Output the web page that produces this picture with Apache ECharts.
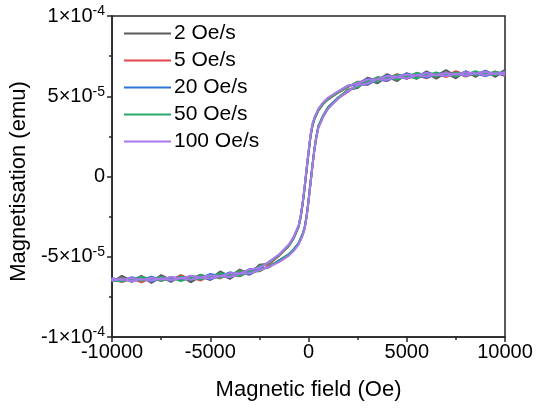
<!DOCTYPE html>
<html><head><meta charset="utf-8">
<script src="https://cdn.jsdelivr.net/npm/echarts@6/dist/echarts.min.js"></script>
<style>html,body{margin:0;padding:0;background:#fff}#c{width:536px;height:410px}</style>
</head><body><div id="c"></div>
<script>
// Magnetisation values are in units of 1e-5 emu
const seriesNames = ['2 Oe/s', '5 Oe/s', '20 Oe/s', '50 Oe/s', '100 Oe/s'];
const fieldDown = [10000,9500,9000,8500,8000,7500,7000,6500,6000,5500,5000,4500,4000,3500,3000,2500,2000,1500,1000,750,500,300,200,100,0,-100,-200,-300,-400,-500,-750,-1000,-1500,-2000,-2500,-3000,-3500,-4000,-4500,-5000,-5500,-6000,-6500,-7000,-7500,-8000,-8500,-9000,-9500,-10000];
const fieldUp = [-10000,-9500,-9000,-8500,-8000,-7500,-7000,-6500,-6000,-5500,-5000,-4500,-4000,-3500,-3000,-2500,-2000,-1500,-1000,-750,-500,-300,-200,-100,0,100,200,300,400,500,750,1000,1500,2000,2500,3000,3500,4000,4500,5000,5500,6000,6500,7000,7500,8000,8500,9000,9500,10000];

const m2Down = [6.65,6.27,6.60,6.22,6.55,6.26,6.63,6.27,6.55,6.14,6.44,6.10,6.38,5.98,6.15,5.75,5.66,5.28,4.82,4.58,4.12,3.63,3.17,2.53,1.47,0.43,-0.73,-1.67,-2.53,-3.07,-3.83,-4.27,-4.93,-5.43,-5.50,-6.05,-5.80,-6.22,-5.92,-6.37,-6.11,-6.47,-6.14,-6.46,-6.14,-6.58,-6.19,-6.50,-6.19,-6.56];
const m2Up = [-6.63,-6.25,-6.57,-6.22,-6.63,-6.27,-6.57,-6.19,-6.59,-6.22,-6.45,-6.07,-6.38,-5.96,-6.12,-5.75,-5.65,-5.22,-4.88,-4.52,-4.18,-3.57,-3.23,-2.47,-1.53,-0.37,0.67,1.73,2.47,3.13,3.77,4.33,4.87,5.41,5.51,6.05,5.80,6.23,5.94,6.41,6.08,6.45,6.10,6.46,6.12,6.56,6.21,6.60,6.21,6.60];

const m5Down = [6.33,6.55,6.30,6.52,6.33,6.56,6.28,6.45,6.22,6.44,6.18,6.37,6.08,6.18,5.90,5.91,5.56,5.21,4.81,4.51,4.11,3.56,3.16,2.46,1.46,0.36,-0.74,-1.74,-2.54,-3.14,-3.84,-4.34,-4.94,-5.45,-5.57,-6.00,-5.88,-6.19,-6.08,-6.33,-6.13,-6.35,-6.18,-6.47,-6.28,-6.48,-6.27,-6.52,-6.31,-6.50];
const m5Up = [-6.35,-6.57,-6.37,-6.59,-6.31,-6.52,-6.27,-6.47,-6.27,-6.48,-6.18,-6.35,-6.10,-6.22,-5.90,-5.91,-5.56,-5.29,-4.89,-4.59,-4.19,-3.64,-3.24,-2.54,-1.54,-0.44,0.66,1.66,2.46,3.06,3.76,4.26,4.86,5.27,5.75,5.71,6.08,5.95,6.28,6.09,6.31,6.12,6.40,6.20,6.46,6.22,6.43,6.26,6.49,6.26];

const m20Down = [6.53,6.35,6.57,6.38,6.53,6.30,6.47,6.29,6.49,6.26,6.40,6.19,6.30,6.00,6.08,5.80,5.63,5.27,4.87,4.57,4.17,3.62,3.22,2.52,1.52,0.42,-0.68,-1.68,-2.48,-3.08,-3.78,-4.28,-4.88,-5.30,-5.75,-5.77,-6.10,-5.97,-6.20,-6.07,-6.33,-6.19,-6.42,-6.26,-6.44,-6.24,-6.45,-6.28,-6.51,-6.32];
const m20Up = [-6.51,-6.33,-6.55,-6.36,-6.55,-6.32,-6.49,-6.27,-6.43,-6.24,-6.42,-6.17,-6.28,-6.04,-6.08,-5.80,-5.63,-5.23,-4.83,-4.53,-4.13,-3.58,-3.18,-2.48,-1.48,-0.38,0.72,1.72,2.52,3.12,3.82,4.32,4.92,5.30,5.75,5.73,6.04,5.97,6.26,6.11,6.33,6.15,6.38,6.26,6.46,6.26,6.45,6.26,6.45,6.30];

const m50Down = [6.39,6.53,6.35,6.56,6.35,6.48,6.29,6.49,6.31,6.46,6.22,6.35,6.12,6.18,5.90,5.89,5.58,5.24,4.84,4.54,4.14,3.59,3.19,2.49,1.49,0.39,-0.71,-1.71,-2.51,-3.11,-3.81,-4.31,-4.91,-5.39,-5.59,-5.95,-5.90,-6.13,-6.02,-6.27,-6.13,-6.39,-6.24,-6.42,-6.26,-6.42,-6.25,-6.48,-6.33,-6.48];
const m50Up = [-6.39,-6.55,-6.37,-6.50,-6.31,-6.50,-6.31,-6.51,-6.31,-6.42,-6.20,-6.31,-6.10,-6.20,-5.94,-5.89,-5.58,-5.25,-4.85,-4.55,-4.15,-3.60,-3.20,-2.50,-1.50,-0.40,0.70,1.70,2.50,3.10,3.80,4.30,4.90,5.39,5.57,5.95,5.92,6.19,6.04,6.25,6.11,6.35,6.24,6.42,6.22,6.44,6.31,6.48,6.31,6.52];

const m100Down = [6.49,6.39,6.53,6.40,6.49,6.34,6.45,6.33,6.45,6.29,6.36,6.21,6.26,6.04,6.04,5.82,5.64,5.31,4.92,4.63,4.23,3.68,3.30,2.60,1.60,0.50,-0.60,-1.60,-2.42,-3.02,-3.73,-4.24,-4.86,-5.32,-5.69,-5.79,-6.05,-6.02,-6.22,-6.15,-6.29,-6.20,-6.35,-6.26,-6.42,-6.32,-6.44,-6.33,-6.45,-6.36];
const m100Up = [-6.49,-6.39,-6.53,-6.39,-6.49,-6.34,-6.46,-6.33,-6.44,-6.30,-6.36,-6.20,-6.26,-6.06,-6.03,-5.83,-5.62,-5.33,-4.93,-4.63,-4.23,-3.68,-3.28,-2.58,-1.58,-0.48,0.62,1.62,2.42,3.02,3.72,4.22,4.84,5.32,5.70,5.79,6.05,6.03,6.20,6.11,6.31,6.23,6.36,6.25,6.40,6.29,6.43,6.31,6.44,6.35];

const xTicks = [-10000, -5000, 0, 5000, 10000];
const yTickLabels = {'10': ['1', '-4'], '5': ['5', '-5'], '0': ['0', ''], '-5': ['-5', '-5'], '-10': ['-1', '-4']};

const downs = [m2Down, m5Down, m20Down, m50Down, m100Down];
const ups = [m2Up, m5Up, m20Up, m50Up, m100Up];
const colors = ['#5b5b5b', '#e8464a', '#2b74d8', '#2aa86a', '#a878ec'];

const FONT = "'Liberation Sans', Arial, sans-serif";
const chart = echarts.init(document.getElementById('c'));

const series = seriesNames.map((name, k) => ({
  name: name,
  type: 'line',
  symbol: 'none',
  showSymbol: false,
  animation: false,
  lineStyle: { width: 2, color: colors[k] },
  itemStyle: { color: colors[k] },
  data: fieldDown.map((h, i) => [h, downs[k][i]]).concat(fieldUp.map((h, i) => [h, ups[k][i]]))
}));

chart.setOption({
  animation: false,
  grid: { left: 111, right: 31, top: 16, bottom: 73, show: true, borderColor: '#262626', borderWidth: 1.5, containLabel: false },
  legend: {
    orient: 'vertical', left: 119, top: 18,
    itemWidth: 47, itemHeight: 16, itemGap: 6,
    textStyle: { fontFamily: FONT, fontSize: 21, color: '#000', padding: [0, 0, 0, -2] },
    data: seriesNames.map(n => ({ name: n, icon: 'path://M0,0 L48,0 L48,2 L0,2 Z' }))
  },
  xAxis: {
    type: 'value', min: xTicks[0], max: xTicks[xTicks.length - 1], interval: 5000,
    name: 'Magnetic field (Oe)', nameLocation: 'middle', nameGap: 42,
    nameTextStyle: { fontFamily: FONT, fontSize: 22, color: '#000' },
    axisLine: { onZero: false, lineStyle: { color: '#262626', width: 1.5 } },
    axisTick: { show: true, inside: false, length: 5, lineStyle: { color: '#262626', width: 1.5 } },
    minorTick: { show: true, splitNumber: 2, length: 3, lineStyle: { color: '#262626', width: 1.5 } },
    splitLine: { show: false },
    axisLabel: { fontFamily: FONT, fontSize: 20, color: '#000', margin: 5, formatter: v => String(v) }
  },
  yAxis: {
    type: 'value', min: -10, max: 10, interval: 5,
    name: 'Magnetisation (emu)', nameLocation: 'middle', nameGap: 81, nameRotate: 90,
    nameTextStyle: { fontFamily: FONT, fontSize: 22, color: '#000', padding: [0, 10, 0, 0] },
    axisLine: { onZero: false, lineStyle: { color: '#262626', width: 1.5 } },
    axisTick: { show: true, inside: false, length: 5, lineStyle: { color: '#262626', width: 1.5 } },
    minorTick: { show: true, splitNumber: 2, length: 3, lineStyle: { color: '#262626', width: 1.5 } },
    splitLine: { show: false },
    axisLabel: {
      fontFamily: FONT, fontSize: 20, color: '#000', margin: 7,
      formatter: v => {
        const t = yTickLabels[String(v)];
        if (!t) return '';
        if (!t[1]) return '{b|' + t[0] + '}';
        return '{b|' + t[0] + '×10}{s|' + t[1] + '}';
      },
      rich: {
        b: { fontFamily: FONT, fontSize: 20, color: '#000' },
        s: { fontFamily: FONT, fontSize: 14, color: '#000', padding: [0, 0, 9, 0] }
      }
    }
  },
  series: series
});
</script></body></html>
